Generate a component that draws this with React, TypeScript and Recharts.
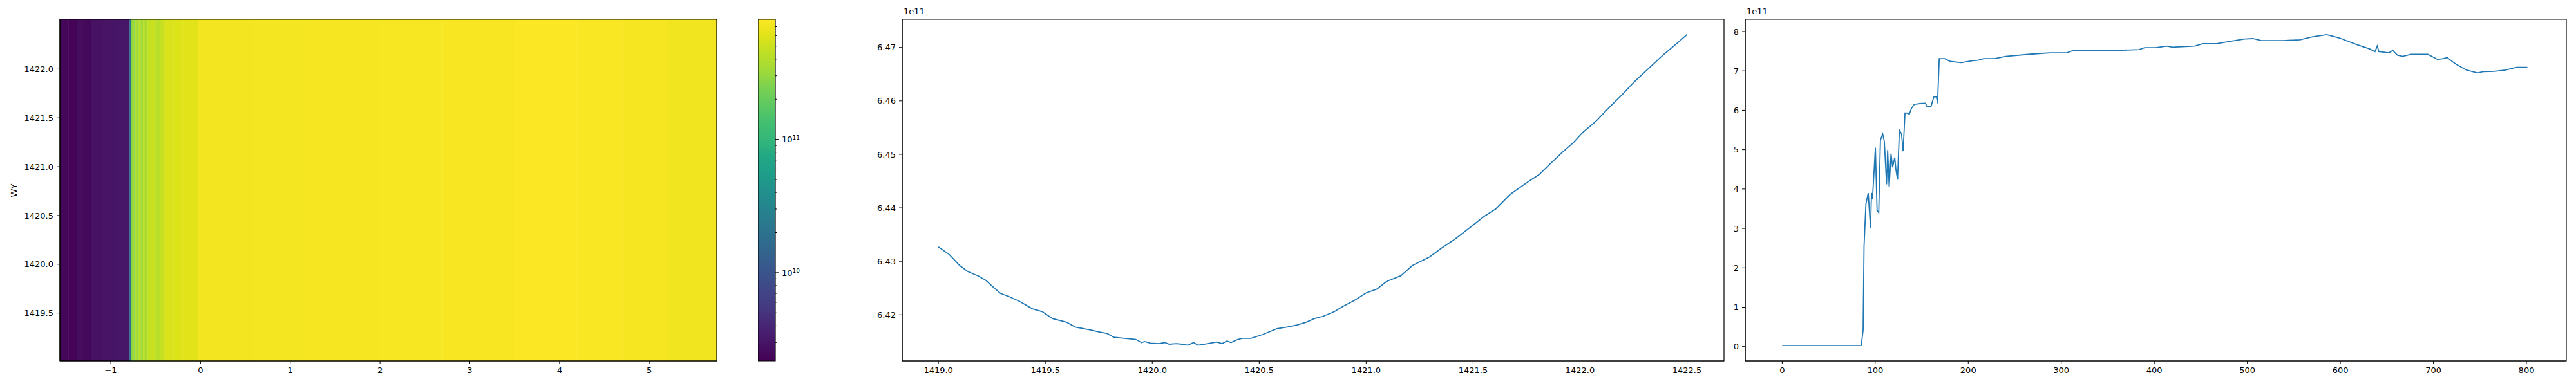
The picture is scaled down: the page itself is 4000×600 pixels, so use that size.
import React from "react";
import { ComposedChart, LineChart, Line, XAxis, YAxis, ReferenceArea } from "recharts";

const FONT = "DejaVu Sans";
const BLUE = "#1f77b4";

// heatmap: column edges along x and the intensity of each column (units of 1e11)
const HEAT_EDGES = [
  -1.567, -1.47, -1.38, -1.3, -1.22, -1.1, -0.95, -0.79, -0.772, -0.755, -0.74, -0.725, -0.71, -0.69,
  -0.665, -0.64, -0.62, -0.59, -0.55, -0.5, -0.45, -0.4, -0.3, -0.2, -0.03, 0.6, 1.2, 2.0, 2.7, 3.5,
  4.2, 4.7, 5.2, 5.752,
];
const HEAT_VALUES = [
  0.024, 0.023, 0.026, 0.025, 0.029, 0.03, 0.031, 0.2, 2.8, 3.6, 2.7, 3.9, 3.1, 4.3, 3.3, 4.4, 3.6,
  4.6, 4.9, 4.2, 4.8, 5.6, 5.8, 6.1, 7.2, 7.3, 7.4, 7.5, 7.6, 7.8, 7.7, 7.4, 7.1,
];
const HEAT_Y = [1419.01, 1422.51];
const HEAT_X_TICKS = [-1, 0, 1, 2, 3, 4, 5];
const HEAT_Y_TICKS = [1419.5, 1420.0, 1420.5, 1421.0, 1421.5, 1422.0];

// colorbar (log norm)
const CB_MIN = 2.18e9;
const CB_MAX = 7.95e11;
const CB_TICKS = [
  3e9, 4e9, 5e9, 6e9, 7e9, 8e9, 9e9, 1e10, 2e10, 3e10, 4e10, 5e10, 6e10, 7e10, 8e10, 9e10, 1e11,
  2e11, 3e11, 4e11, 5e11, 6e11, 7e11,
];

// middle panel: mean power vs frequency (1e11)
const FREQ = [
  1419.0, 1419.05, 1419.1, 1419.137, 1419.19, 1419.223, 1419.25, 1419.29, 1419.33, 1419.38, 1419.44,
  1419.485, 1419.533, 1419.6, 1419.64, 1419.708, 1419.75, 1419.789, 1419.82, 1419.87, 1419.923,
  1419.95, 1419.964, 1419.991, 1420.031, 1420.058, 1420.08, 1420.112, 1420.139, 1420.166, 1420.193,
  1420.214, 1420.26, 1420.3, 1420.327, 1420.349, 1420.368, 1420.394, 1420.42,
  1420.462, 1420.516, 1420.583, 1420.63, 1420.677, 1420.72, 1420.758, 1420.798, 1420.852, 1420.893,
  1420.946, 1421.0, 1421.05, 1421.094, 1421.162, 1421.216, 1421.296, 1421.35, 1421.417, 1421.485,
  1421.552, 1421.606, 1421.673, 1421.754, 1421.808, 1421.862, 1421.915, 1421.969, 1422.01, 1422.077,
  1422.144, 1422.198, 1422.252, 1422.319, 1422.386, 1422.454, 1422.5,
];
const MEAN_POWER = [
  6.4327, 6.4313, 6.4292, 6.4281, 6.4272, 6.4264, 6.4254, 6.424, 6.4234, 6.4225, 6.4211, 6.4206,
  6.4193, 6.4186, 6.4177, 6.4172, 6.4168, 6.4165, 6.4158, 6.4156, 6.4154,
  6.4148, 6.415, 6.4147, 6.4146, 6.4148, 6.4145, 6.4146, 6.4145, 6.4143, 6.4148,
  6.4143, 6.4146, 6.4149, 6.4146, 6.4151, 6.4148, 6.4153, 6.4156,
  6.4156, 6.4163, 6.4174, 6.4177, 6.4181,
  6.4186, 6.4193, 6.4197, 6.4206, 6.4216, 6.4227, 6.4241, 6.4248, 6.4262, 6.4273, 6.4292, 6.4308,
  6.4324, 6.4342, 6.4363, 6.4384, 6.4398, 6.4425, 6.4448, 6.4462, 6.4483, 6.4503, 6.4522, 6.454,
  6.4563, 6.4591, 6.4612, 6.4635, 6.466, 6.4685, 6.4708, 6.4724,
];

// right panel: total power vs sample (1e11)
const SAMPLE = [
  0, 85, 87, 88, 90, 92.5, 95, 96, 97, 98.4, 100.2, 102, 103.8, 105.6, 108, 109.8, 112.2, 113.4, 115,
  117, 118.7, 121, 122.3, 124, 126, 128.3, 130, 132, 134, 136.6, 139, 142, 148, 154, 155.7, 160, 163,
  165.8, 167, 168.8, 174.8, 180.8, 192.7, 204.6, 210.6, 216.6, 228.5, 240.4, 264.3, 276.2, 288.2, 306,
  312, 336, 360, 383.6, 389.6, 401.5, 413.4, 419.4, 443.3, 452.2, 467.1, 479, 497, 506, 515, 538.7,
  556.6, 568.6, 585.3, 598.4, 616.3, 631.2, 637.2, 639.6, 641.4, 652.1, 656.3, 661.1, 667, 676, 694,
  704.6, 710.6, 714.7, 723.7, 735.6, 747.5, 753.5, 765.4, 777.4, 789.3, 801,
];
const TOTAL_POWER = [
  0.03, 0.03, 0.42, 2.55, 3.62, 3.9, 3.0, 3.9, 3.74, 4.3, 5.05, 3.46, 3.4, 5.24, 5.4, 5.21, 4.12, 4.99,
  4.05, 4.9, 4.55, 4.8, 4.49, 4.24, 5.49, 5.4, 4.96, 5.93, 5.93, 5.9, 6.05, 6.15, 6.17, 6.18, 6.09,
  6.1, 6.34, 6.34, 6.18, 7.31, 7.31, 7.24, 7.21, 7.26, 7.27, 7.31, 7.31, 7.37, 7.42, 7.44, 7.46, 7.46,
  7.51, 7.51, 7.52, 7.54, 7.59, 7.59, 7.63, 7.6, 7.63, 7.69, 7.69, 7.74, 7.81, 7.82, 7.77, 7.77, 7.79,
  7.86, 7.92, 7.84, 7.68, 7.56, 7.49, 7.63, 7.49, 7.46, 7.52, 7.4, 7.37, 7.42, 7.42, 7.29, 7.31, 7.34,
  7.18, 7.02, 6.95, 6.98, 6.99, 7.02, 7.09, 7.09,
];

// viridis colormap stops
const VIRIDIS: [number, number, number][] = [
  [68, 1, 84], [71, 19, 101], [72, 36, 117], [69, 55, 129], [65, 68, 135], [59, 82, 139],
  [53, 95, 141], [46, 108, 142], [42, 120, 142], [37, 133, 142], [33, 145, 140], [30, 158, 137],
  [34, 168, 132], [53, 183, 121], [68, 191, 112], [94, 201, 98], [122, 209, 81], [160, 218, 57],
  [189, 223, 38], [223, 227, 24], [253, 231, 37],
];

function viridisAt(t: number) {
  const c = Math.max(0, Math.min(1, t)) * (VIRIDIS.length - 1);
  const i = Math.min(VIRIDIS.length - 2, Math.floor(c));
  const f = c - i;
  const a = VIRIDIS[i];
  const b = VIRIDIS[i + 1];
  const mix = (k: number) => Math.round(a[k] + (b[k] - a[k]) * f);
  return `rgb(${mix(0)},${mix(1)},${mix(2)})`;
}

function colorFor(v: number) {
  const lo = Math.log10(CB_MIN);
  const hi = Math.log10(CB_MAX);
  return viridisAt((Math.log10(v * 1e11) - lo) / (hi - lo));
}

const tickStyle = { fill: "#000", fontSize: 13, fontFamily: FONT };
const lineStyle = { stroke: "#000" };

const fmtSigned = (v: number) => (v < 0 ? "\u2212" + Math.abs(v) : String(v));

function CbarTick({ x, y, payload }: any) {
  const v = payload.value as number;
  const lg = Math.log10(v);
  const exp = Math.round(lg);
  const major = Math.abs(lg - exp) < 1e-6;
  return (
    <g>
      <line x1={x} x2={x + (major ? 5 : 3)} y1={y} y2={y} stroke="#000" />
      {major && (
        <text x={x + 10} y={y} dy="0.36em" fontSize={13} fontFamily={FONT} fill="#000">
          10
          <tspan dy="-0.5em" fontSize={9}>
            {exp}
          </tspan>
        </text>
      )}
    </g>
  );
}

function HeatPanel() {
  return (
    <div style={{ position: "absolute", left: 0, top: 0 }}>
      <ComposedChart width={1114} height={600} margin={{ top: 30, right: 1, bottom: 0, left: 0 }} data={[]}>
        <XAxis
          type="number"
          dataKey="x"
          domain={[HEAT_EDGES[0], HEAT_EDGES[HEAT_EDGES.length - 1]]}
          allowDataOverflow
          ticks={HEAT_X_TICKS}
          interval={0}
          tickFormatter={fmtSigned}
          height={39}
          tick={tickStyle}
          tickLine={lineStyle}
          axisLine={lineStyle}
          tickSize={5}
          tickMargin={5}
        />
        <YAxis
          type="number"
          domain={HEAT_Y}
          allowDataOverflow
          ticks={HEAT_Y_TICKS}
          interval={0}
          tickFormatter={(v: number) => v.toFixed(1)}
          width={93}
          tick={tickStyle}
          tickLine={lineStyle}
          axisLine={lineStyle}
          tickSize={5}
          tickMargin={5}
        />
        {HEAT_VALUES.map((v, i) => (
          <ReferenceArea
            key={i}
            x1={HEAT_EDGES[i]}
            x2={HEAT_EDGES[i + 1]}
            y1={HEAT_Y[0]}
            y2={HEAT_Y[1]}
            fill={colorFor(v)}
            fillOpacity={1}
            stroke={colorFor(v)}
            strokeWidth={0.5}
            ifOverflow="hidden"
          />
        ))}
        <ReferenceArea
          x1={HEAT_EDGES[0]}
          x2={HEAT_EDGES[HEAT_EDGES.length - 1]}
          y1={HEAT_Y[0]}
          y2={HEAT_Y[1]}
          fill="none"
          stroke="#000"
          strokeWidth={1.2}
        />
      </ComposedChart>
      <div
        style={{
          position: "absolute",
          left: 21,
          top: 296,
          transform: "translate(-50%, -50%) rotate(-90deg)",
          fontFamily: FONT,
          fontSize: 13,
          whiteSpace: "nowrap",
        }}
      >
        WY
      </div>
    </div>
  );
}

function ColorbarPanel() {
  const stops = VIRIDIS.map((_, i) => i / (VIRIDIS.length - 1));
  return (
    <div style={{ position: "absolute", left: 1177, top: 0 }}>
      <ComposedChart width={100} height={600} margin={{ top: 30, right: 0, bottom: 39, left: 0 }} data={[]}>
        <defs>
          <linearGradient id="viridisBar" x1="0" y1="1" x2="0" y2="0">
            {stops.map((t) => (
              <stop key={t} offset={`${t * 100}%`} stopColor={viridisAt(t)} />
            ))}
          </linearGradient>
        </defs>
        <XAxis type="number" dataKey="x" domain={[0, 1]} allowDataOverflow height={0} tick={false} tickLine={false} axisLine={false} />
        <YAxis
          orientation="right"
          type="number"
          scale="log"
          domain={[CB_MIN, CB_MAX]}
          allowDataOverflow
          ticks={CB_TICKS}
          interval={0}
          width={73}
          tick={<CbarTick />}
          tickLine={false}
          axisLine={false}
          tickSize={0}
          tickMargin={0}
        />
        <ReferenceArea
          x1={0}
          x2={1}
          y1={CB_MIN}
          y2={CB_MAX}
          fill="url(#viridisBar)"
          fillOpacity={1}
          stroke="#000"
          strokeWidth={1.2}
          ifOverflow="visible"
        />
      </ComposedChart>
    </div>
  );
}

type LinePanelProps = {
  left: number;
  plotWidth: number;
  yAxisWidth: number;
  xs: number[];
  ys: number[];
  xDomain: [number, number];
  yDomain: [number, number];
  xTicks: number[];
  yTicks: number[];
  xFmt: (v: number) => string;
  yFmt: (v: number) => string;
};

function LinePanel({ left, plotWidth, yAxisWidth, xs, ys, xDomain, yDomain, xTicks, yTicks, xFmt, yFmt }: LinePanelProps) {
  const data = xs.map((x, i) => ({ x, y: ys[i] }));
  return (
    <div style={{ position: "absolute", left: left - yAxisWidth, top: 0 }}>
      <LineChart
        width={yAxisWidth + plotWidth + 1}
        height={600}
        data={data}
        margin={{ top: 30, right: 1, bottom: 0, left: 0 }}
      >
        <XAxis
          type="number"
          dataKey="x"
          domain={xDomain}
          allowDataOverflow
          ticks={xTicks}
          interval={0}
          tickFormatter={xFmt}
          height={39}
          tick={tickStyle}
          tickLine={lineStyle}
          axisLine={lineStyle}
          tickSize={5}
          tickMargin={5}
        />
        <YAxis
          type="number"
          domain={yDomain}
          allowDataOverflow
          ticks={yTicks}
          interval={0}
          tickFormatter={yFmt}
          width={yAxisWidth}
          tick={tickStyle}
          tickLine={lineStyle}
          axisLine={lineStyle}
          tickSize={5}
          tickMargin={5}
        />
        <ReferenceArea
          x1={xDomain[0]}
          x2={xDomain[1]}
          y1={yDomain[0]}
          y2={yDomain[1]}
          fill="none"
          stroke="#000"
          strokeWidth={1.2}
          ifOverflow="visible"
        />
        <Line type="linear" dataKey="y" stroke={BLUE} strokeWidth={1.8} dot={false} isAnimationActive={false} />
      </LineChart>
      <div
        style={{
          position: "absolute",
          left: yAxisWidth + 2,
          top: 10,
          fontFamily: FONT,
          fontSize: 13,
          lineHeight: "16px",
        }}
      >
        1e11
      </div>
    </div>
  );
}

export default function App() {
  return (
    <div
      style={{
        position: "absolute",
        left: 0,
        top: 0,
        width: 4000,
        height: 600,
        background: "#fff",
        fontFamily: FONT,
      }}
    >
      <HeatPanel />
      <ColorbarPanel />
      <LinePanel
        left={1401}
        plotWidth={1276}
        yAxisWidth={60}
        xs={FREQ}
        ys={MEAN_POWER}
        xDomain={[1418.831, 1422.673]}
        yDomain={[6.41137, 6.47526]}
        xTicks={[1419.0, 1419.5, 1420.0, 1420.5, 1421.0, 1421.5, 1422.0, 1422.5]}
        yTicks={[6.42, 6.43, 6.44, 6.45, 6.46, 6.47]}
        xFmt={(v) => v.toFixed(1)}
        yFmt={(v) => v.toFixed(2)}
      />
      <LinePanel
        left={2710}
        plotWidth={1275}
        yAxisWidth={30}
        xs={SAMPLE}
        ys={TOTAL_POWER}
        xDomain={[-39.7, 842.9]}
        yDomain={[-0.364, 8.31]}
        xTicks={[0, 100, 200, 300, 400, 500, 600, 700, 800]}
        yTicks={[0, 1, 2, 3, 4, 5, 6, 7, 8]}
        xFmt={(v) => String(v)}
        yFmt={(v) => String(v)}
      />
    </div>
  );
}
